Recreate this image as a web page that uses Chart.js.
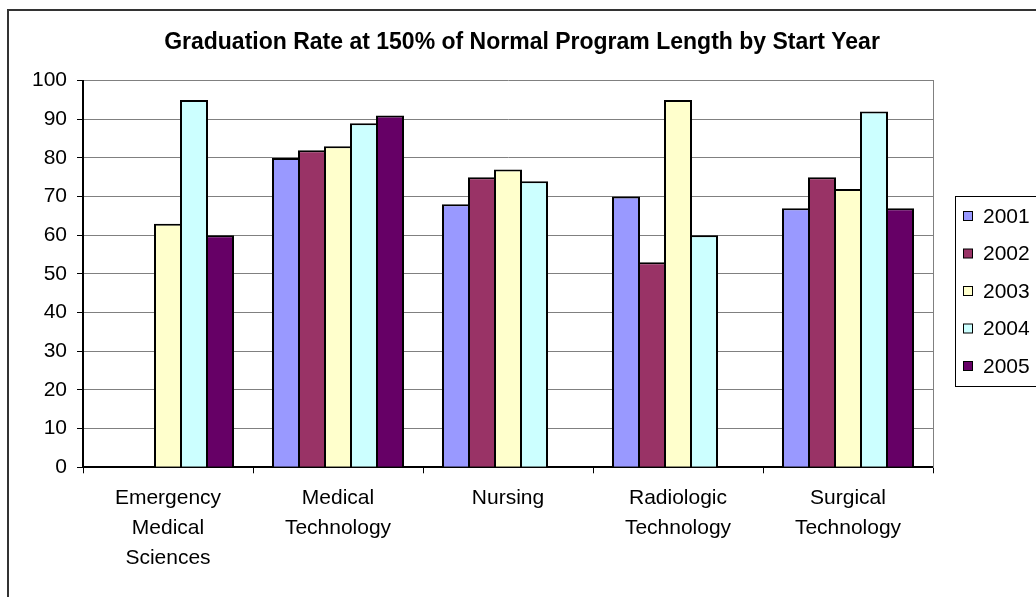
<!DOCTYPE html>
<html>
<head>
<meta charset="utf-8">
<script src="https://cdn.jsdelivr.net/npm/chart.js@4.4.1/dist/chart.umd.min.js"></script>
<style>
  html, body { margin: 0; padding: 0; background: #fff; }
  #wrap { width: 1036px; height: 597px; }
</style>
</head>
<body>
<div id="wrap"><canvas id="chart" width="1036" height="597"></canvas></div>
<script>
const TITLE = "Graduation Rate at 150% of Normal Program Length by Start Year";
const PROGRAMS = [
  ["Emergency", "Medical", "Sciences"],
  ["Medical", "Technology"],
  ["Nursing"],
  ["Radiologic", "Technology"],
  ["Surgical", "Technology"],
];
const YEARS = ["2001", "2002", "2003", "2004", "2005"];
const RATE_2001 = [null, 80, 68, 70, 67];
const RATE_2002 = [null, 82, 75, 53, 75];
const RATE_2003 = [63, 83, 77, 95, 72];
const RATE_2004 = [95, 89, 74, 60, 92];
const RATE_2005 = [60, 91, null, null, 67];
const Y_MIN = 0, Y_MAX = 100, Y_STEP = 10;

const FONT = "'Liberation Sans', Arial, sans-serif";
const COLORS = ["#9999FF", "#993366", "#FFFFCC", "#CCFFFF", "#660066"];
const SERIES = [RATE_2001, RATE_2002, RATE_2003, RATE_2004, RATE_2005];

// white page + the chart frame (only left and top edges fall inside the picture)
const frame = {
  id: "frame",
  beforeDraw(chart) {
    const ctx = chart.ctx;
    ctx.save();
    ctx.fillStyle = "#fff";
    ctx.fillRect(0, 0, chart.width, chart.height);
    ctx.strokeStyle = "#333";
    ctx.lineWidth = 2;
    ctx.strokeRect(8, 10, chart.width + 20, chart.height + 20);
    ctx.restore();
  },
};

// Excel-style boxed legend on the right
const boxLegend = {
  id: "boxLegend",
  afterDraw(chart) {
    const ctx = chart.ctx;
    const left = 955, top = 196, bottom = 386;
    const first = 216, step = 37.5;
    ctx.save();
    ctx.strokeStyle = "#000";
    ctx.lineWidth = 1;
    ctx.strokeRect(left + 0.5, top + 0.5, 200, bottom - top);
    ctx.font = "21px " + FONT;
    ctx.textBaseline = "middle";
    chart.data.datasets.forEach((ds, i) => {
      const y = first + i * step;
      ctx.fillStyle = ds.backgroundColor;
      ctx.fillRect(963, y - 4.5, 9, 9);
      ctx.strokeRect(963.5, y - 4.5, 9, 9);
      ctx.fillStyle = "#000";
      ctx.fillText(ds.label, 983, y + 1);
    });
    ctx.restore();
  },
};

new Chart(document.getElementById("chart"), {
  type: "bar",
  data: {
    labels: PROGRAMS,
    datasets: YEARS.map((y, i) => ({
      label: y,
      data: SERIES[i],
      backgroundColor: COLORS[i],
      borderColor: "#000",
      borderWidth: 2,
      borderSkipped: "bottom",
      categoryPercentage: 130 / 170,
      barPercentage: 28 / 26,
    })),
  },
  options: {
    responsive: false,
    animation: false,
    devicePixelRatio: 1,
    layout: { padding: { left: 8, right: 0, top: 0, bottom: 0 } },
    scales: {
      x: {
        grid: { offset: true, drawOnChartArea: false, tickLength: 6, tickColor: "#000", lineWidth: 1 },
        border: { color: "#000", width: 2 },
        ticks: { color: "#000", padding: 10, maxRotation: 0, autoSkip: false, font: { family: FONT, size: 21, lineHeight: 30 / 21 } },
        afterFit: (s) => { s.height = 129.7; },
      },
      y: {
        min: Y_MIN, max: Y_MAX,
        grid: { color: "#808080", lineWidth: 1, tickLength: 6, tickColor: "#000" },
        border: { color: "#000", width: 2 },
        ticks: { stepSize: Y_STEP, color: "#000", padding: 10, font: { family: FONT, size: 21 } },
        afterFit: (s) => { s.width = 75; },
      },
      edge: {
        type: "linear", position: "right", display: true,
        grid: { display: false },
        ticks: { display: false },
        border: { display: true, color: "#808080", width: 1 },
        afterFit: (s) => { s.width = 103; },
      },
    },
    plugins: {
      legend: { display: false },
      tooltip: { enabled: false },
      title: {
        display: true,
        text: TITLE,
        color: "#000",
        font: { family: FONT, size: 23, weight: "bold", lineHeight: 1.2 },
        padding: { top: 29, bottom: 24 },
      },
    },
  },
  plugins: [frame, boxLegend],
});
</script>
</body>
</html>
